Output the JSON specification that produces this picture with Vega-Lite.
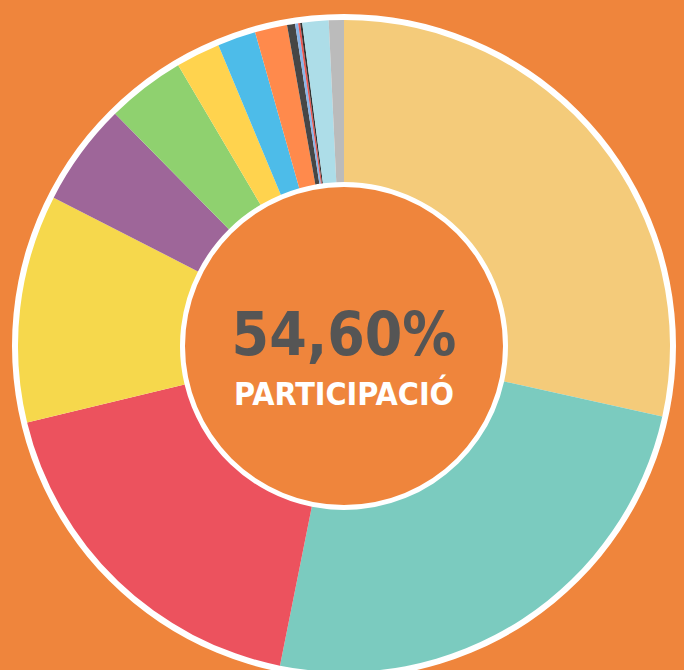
{
  "$schema": "https://vega.github.io/schema/vega-lite/v6.json",
  "width": 680,
  "height": 648,
  "padding": {"left": 4, "top": 22, "right": 0, "bottom": 0},
  "autosize": {"type": "none"},
  "background": "#EF853C",
  "view": {"stroke": null, "fill": "#EF853C"},
  "datasets": {
    "results": [
      {"party": "P01", "order": 1, "share": 28.5},
      {"party": "P02", "order": 2, "share": 24.7},
      {"party": "P03", "order": 3, "share": 18.1},
      {"party": "P04", "order": 4, "share": 11.3},
      {"party": "P05", "order": 5, "share": 5.1},
      {"party": "P06", "order": 6, "share": 3.9},
      {"party": "P07", "order": 7, "share": 2.2},
      {"party": "P08", "order": 8, "share": 1.9},
      {"party": "P09", "order": 9, "share": 1.6},
      {"party": "P10", "order": 10, "share": 0.4},
      {"party": "P11", "order": 11, "share": 0.15},
      {"party": "P12", "order": 12, "share": 0.1},
      {"party": "P13", "order": 13, "share": 0.1},
      {"party": "P14", "order": 14, "share": 1.3},
      {"party": "P15", "order": 15, "share": 0.75}
    ],
    "disc": [{"name": "centre"}],
    "label": [{"participation": "54,60%", "caption": "PARTICIPACIÓ"}]
  },
  "layer": [
    {
      "data": {"name": "disc"},
      "mark": {"type": "point", "shape": "circle", "filled": true, "size": 440896, "fill": "#FFFFFF", "opacity": 1, "stroke": null},
      "encoding": {}
    },
    {
      "data": {"name": "results"},
      "mark": {"type": "arc", "outerRadius": 326, "innerRadius": 164, "stroke": null},
      "encoding": {
        "theta": {"field": "share", "type": "quantitative", "stack": true},
        "order": {"field": "order", "type": "quantitative"},
        "color": {
          "field": "party",
          "type": "nominal",
          "legend": null,
          "scale": {
            "domain": ["P01","P02","P03","P04","P05","P06","P07","P08","P09","P10","P11","P12","P13","P14","P15"],
            "range": ["#F4CB7A","#7BCBBF","#EC525E","#F6D84C","#9E6699","#8FD16F","#FFD34E","#4DBCE9","#FF8A4C","#464646","#8AB4E8","#E8544E","#333333","#ADDDE8","#BBBBBB"]
          }
        }
      }
    },
    {
      "data": {"name": "disc"},
      "mark": {"type": "point", "shape": "circle", "filled": true, "size": 101124, "fill": "#EF853C", "opacity": 1, "stroke": null},
      "encoding": {}
    },
    {
      "data": {"name": "label"},
      "mark": {"type": "text", "font": "DejaVu Sans Condensed, sans-serif", "fontWeight": "bold", "fontSize": 60, "color": "#555555", "baseline": "alphabetic", "align": "center", "dy": 9},
      "encoding": {"text": {"field": "participation"}}
    },
    {
      "data": {"name": "label"},
      "mark": {"type": "text", "font": "DejaVu Sans Condensed, sans-serif", "fontWeight": "bold", "fontSize": 32, "color": "#FFFFFF", "baseline": "alphabetic", "align": "center", "dy": 59},
      "encoding": {"text": {"field": "caption"}}
    }
  ]
}
